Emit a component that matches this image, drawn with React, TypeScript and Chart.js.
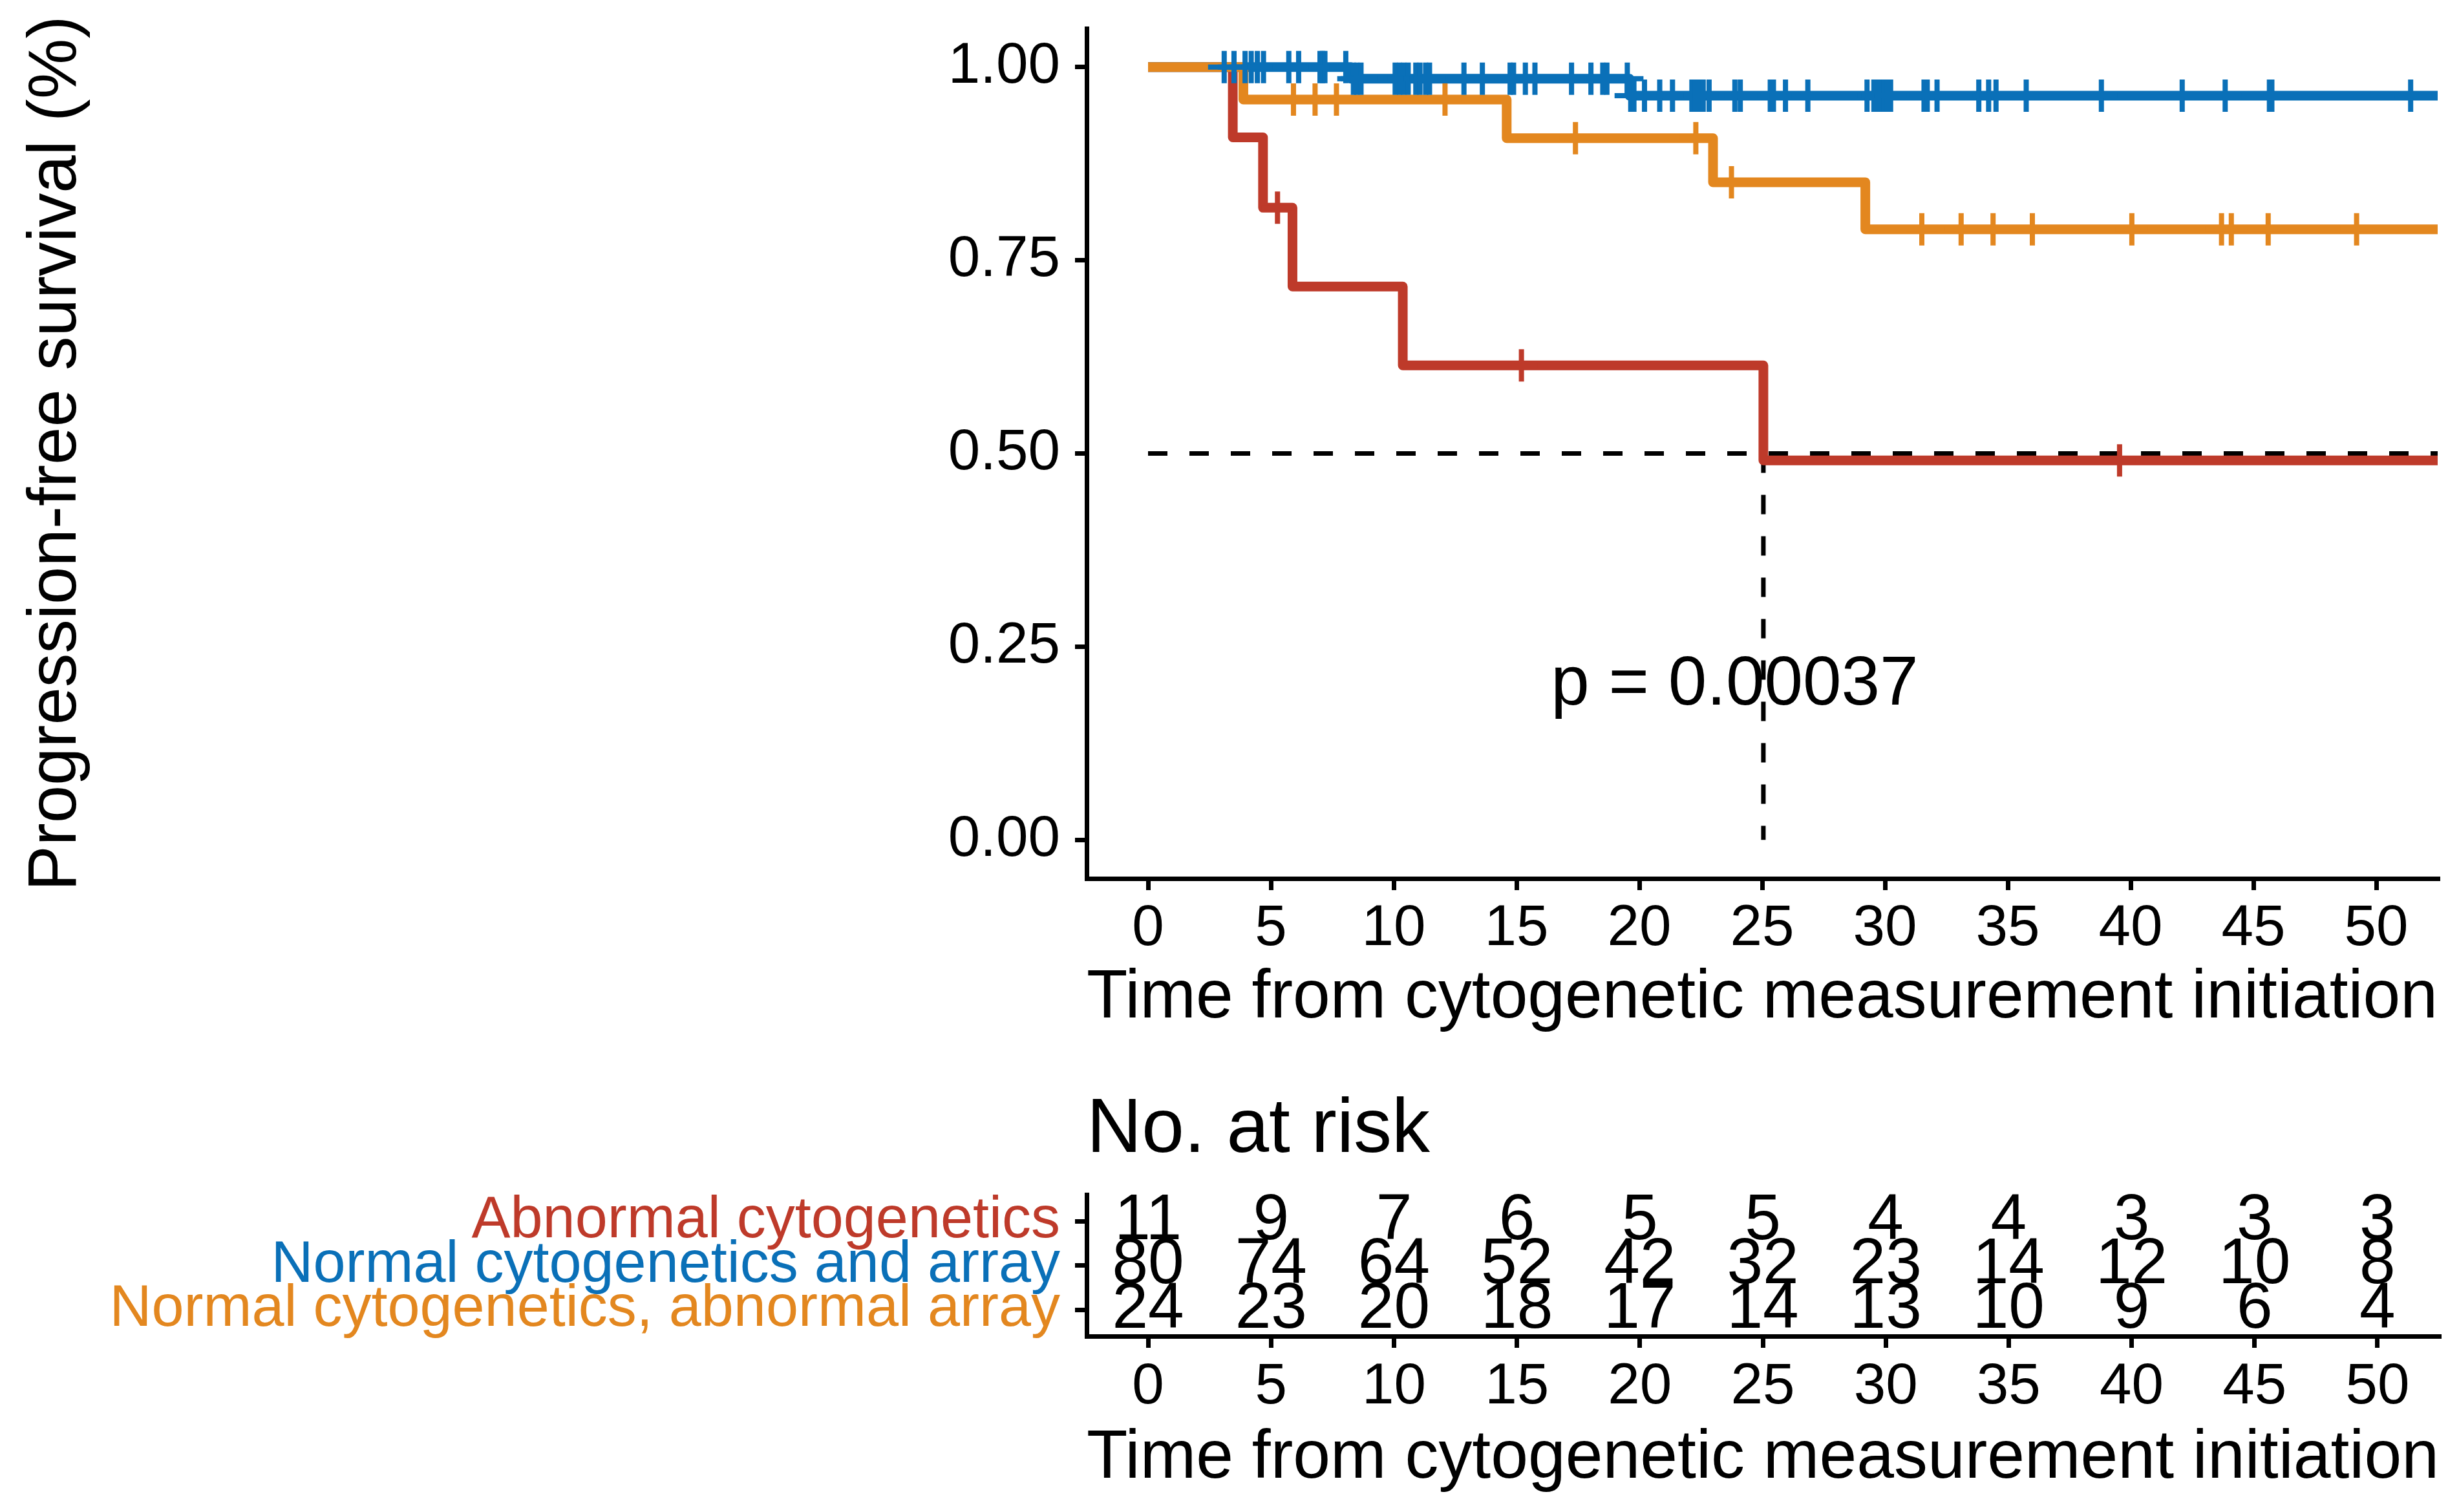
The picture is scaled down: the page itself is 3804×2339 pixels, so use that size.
import React, { useEffect, useRef } from 'react';
import { Chart, registerables } from 'chart.js';

Chart.register(...registerables);

const FONT = '"Liberation Sans", Arial, Helvetica, sans-serif';

const GROUPS = ['Abnormal cytogenetics', 'Normal cytogenetics and array', 'Normal cytogenetics, abnormal array'];
const COLORS = ['#BE3A2A', '#0A70B8', '#E3871F'];

// Kaplan-Meier step curves (time, survival)
const RED_STEP_TIMES = [0, 3.45, 4.68, 5.88, 10.37, 25.05, 55];
const RED_STEP_SURV = [1, 0.909, 0.818, 0.716, 0.614, 0.491, 0.491];
const RED_CENSOR = [5.27, 15.2, 39.55];

const BLUE_STEP_TIMES = [0, 8.25, 19.6, 55];
const BLUE_STEP_SURV = [1, 0.985, 0.963, 0.963];
const BLUE_CENSOR = [
  3.1, 3.5, 3.95, 4.2, 4.45, 4.7,
  5.73, 6.13, 7.0, 7.1, 7.2, 8.05, 8.36, 8.5, 8.67,
  10.06, 10.24, 10.41, 10.59, 10.9, 11.07, 11.3, 11.46, 12.86, 13.61, 14.74, 14.88,
  15.36, 15.75, 17.24, 18.03, 18.51, 18.68, 19.51, 19.65, 19.78,
  20.21, 20.83, 21.35, 22.14, 22.27, 22.45, 22.6, 22.84, 23.89, 24.11,
  25.33, 25.46, 25.95, 26.86, 29.27, 29.55, 29.7, 29.85, 29.95,
  30.1, 30.23, 31.59, 31.65, 31.72, 32.12, 33.82, 34.22, 34.52,
  35.75, 38.81, 42.1, 43.85, 45.65, 45.75, 51.4,
];

const ORANGE_STEP_TIMES = [0, 3.88, 14.6, 23.0, 29.2, 55];
const ORANGE_STEP_SURV = [1, 0.958, 0.908, 0.851, 0.79, 0.79];
const ORANGE_CENSOR = [5.92, 6.8, 7.67, 12.09, 17.4, 22.3, 23.75, 31.5, 33.1, 34.4, 36.0, 40.05, 43.7, 44.1, 45.6, 49.2];

const X_TICKS = [0, 5, 10, 15, 20, 25, 30, 35, 40, 45, 50];
const Y_TICKS = [0, 0.25, 0.5, 0.75, 1];

const RISK_TIMES = [0, 5, 10, 15, 20, 25, 30, 35, 40, 45, 50];
const RISK_RED = [11, 9, 7, 6, 5, 5, 4, 4, 3, 3, 3];
const RISK_BLUE = [80, 74, 64, 52, 42, 32, 23, 14, 12, 10, 8];
const RISK_ORANGE = [24, 23, 20, 18, 17, 14, 13, 10, 9, 6, 4];

const MEDIAN_TIME = 25.05;
const MEDIAN_SURV = 0.5;
const P_TEXT = 'p = 0.00037';
const P_X = 16.4;
const P_Y = 0.2;

const X_TITLE = 'Time from cytogenetic measurement initiation';
const Y_TITLE = 'Progression-free survival (%)';
const RISK_TITLE = 'No. at risk';

const W = 3804;
const TOP_H = 1640;
const RISK_H = 699;
const Y_AXIS_W = 1681;
const RIGHT_PAD = 31;

function stepPoints(times: number[], surv: number[]) {
  return times.map((t, i) => ({ x: t, y: surv[i] }));
}
function survAt(times: number[], surv: number[], t: number) {
  let v = surv[0];
  for (let i = 0; i < times.length; i++) if (times[i] <= t) v = surv[i];
  return v;
}
function censorPoints(c: number[], times: number[], surv: number[]) {
  return c.map((t) => ({ x: t, y: survAt(times, surv, t) }));
}

const axisCommon = {
  border: { display: true, color: '#000', width: 7 },
  grid: { display: true, drawOnChartArea: false, drawTicks: true, tickLength: 18, tickWidth: 7, tickColor: '#000', color: '#000', lineWidth: 7 },
};

const zeroPadX = (s: any, h: number) => {
  s.height = h;
  s.paddingLeft = 0;
  s.paddingRight = 0;
  s.paddingTop = 0;
  s.paddingBottom = 0;
};
const zeroPadY = (s: any) => {
  s.width = Y_AXIS_W;
  s.paddingTop = 0;
  s.paddingBottom = 0;
  s.paddingLeft = 0;
  s.paddingRight = 0;
};

export default function App() {
  const topRef = useRef<HTMLCanvasElement | null>(null);
  const riskRef = useRef<HTMLCanvasElement | null>(null);

  useEffect(() => {
    const lineDs = (label: string, color: string, times: number[], surv: number[], order: number) => ({
      type: 'line' as const,
      label,
      data: stepPoints(times, surv),
      borderColor: color,
      backgroundColor: color,
      borderWidth: 15,
      stepped: 'before' as const,
      pointRadius: 0,
      fill: false,
      borderJoinStyle: 'round' as const,
      borderCapStyle: 'butt' as const,
      order,
    });
    const censorDs = (label: string, color: string, c: number[], times: number[], surv: number[], order: number) => ({
      type: 'line' as const,
      label,
      data: censorPoints(c, times, surv),
      showLine: false,
      pointStyle: 'cross' as const,
      pointRadius: 25,
      pointBorderWidth: 8,
      pointBorderColor: color,
      pointBackgroundColor: color,
      borderColor: color,
      order,
    });

    const pPlugin = {
      id: 'pval',
      afterDatasetsDraw(chart: any) {
        const { ctx, scales } = chart;
        ctx.save();
        ctx.font = `107px ${FONT}`;
        ctx.fillStyle = '#000';
        ctx.textAlign = 'left';
        ctx.textBaseline = 'middle';
        ctx.fillText(P_TEXT, scales.x.getPixelForValue(P_X), scales.y.getPixelForValue(P_Y));
        ctx.restore();
      },
    };

    const top = new Chart(topRef.current as HTMLCanvasElement, {
      type: 'line',
      data: {
        datasets: [
          censorDs(GROUPS[2], COLORS[2], ORANGE_CENSOR, ORANGE_STEP_TIMES, ORANGE_STEP_SURV, 0),
          censorDs(GROUPS[1], COLORS[1], BLUE_CENSOR, BLUE_STEP_TIMES, BLUE_STEP_SURV, 1),
          censorDs(GROUPS[0], COLORS[0], RED_CENSOR, RED_STEP_TIMES, RED_STEP_SURV, 2),
          lineDs(GROUPS[2], COLORS[2], ORANGE_STEP_TIMES, ORANGE_STEP_SURV, 3),
          lineDs(GROUPS[1], COLORS[1], BLUE_STEP_TIMES, BLUE_STEP_SURV, 4),
          lineDs(GROUPS[0], COLORS[0], RED_STEP_TIMES, RED_STEP_SURV, 5),
          {
            type: 'line' as const,
            label: 'median-h',
            data: [{ x: 0, y: MEDIAN_SURV }, { x: 55, y: MEDIAN_SURV }],
            borderColor: '#000',
            borderWidth: 7,
            borderDash: [30, 34],
            pointRadius: 0,
            order: 6,
          },
          {
            type: 'line' as const,
            label: 'median-v',
            data: [{ x: MEDIAN_TIME, y: MEDIAN_SURV }, { x: MEDIAN_TIME, y: 0 }],
            borderColor: '#000',
            borderWidth: 7,
            borderDash: [30, 34],
            pointRadius: 0,
            order: 6,
          },
        ] as any,
      },
      options: {
        responsive: false,
        animation: false,
        devicePixelRatio: 1,
        layout: { padding: { top: 44, right: RIGHT_PAD, bottom: 0, left: 0 } },
        plugins: { legend: { display: false }, tooltip: { enabled: false }, title: { display: false } },
        scales: {
          x: {
            type: 'linear',
            min: -2.5,
            max: 52.5,
            ...axisCommon,
            afterBuildTicks: (s: any) => { s.ticks = X_TICKS.map((v) => ({ value: v })); },
            afterFit: (s: any) => zeroPadX(s, TOP_H - 1359),
            ticks: { autoSkip: false, maxRotation: 0, padding: 7, color: '#000', font: { family: FONT, size: 89 }, callback: (v: any) => String(v) },
            title: { display: true, text: X_TITLE, color: '#000', font: { family: FONT, size: 105 }, padding: { top: 0, bottom: 32 } },
          },
          y: {
            type: 'linear',
            min: -0.05,
            max: 1.05,
            ...axisCommon,
            afterBuildTicks: (s: any) => { s.ticks = Y_TICKS.map((v) => ({ value: v })); },
            afterFit: (s: any) => zeroPadY(s),
            ticks: { autoSkip: false, padding: 23, color: '#000', font: { family: FONT, size: 89 }, callback: (v: any) => Number(v).toFixed(2) },
            title: { display: true, text: Y_TITLE, color: '#000', font: { family: FONT, size: 105 }, padding: { top: 25, bottom: 0 } },
          },
        },
      } as any,
      plugins: [pPlugin],
    });

    const riskRows = [RISK_RED, RISK_BLUE, RISK_ORANGE];
    const riskPlugin = {
      id: 'risknums',
      afterDatasetsDraw(chart: any) {
        const { ctx } = chart;
        ctx.save();
        ctx.font = `100px ${FONT}`;
        ctx.fillStyle = '#000';
        ctx.textAlign = 'center';
        ctx.textBaseline = 'middle';
        chart.data.datasets.forEach((ds: any, di: number) => {
          const meta = chart.getDatasetMeta(di);
          meta.data.forEach((el: any, i: number) => {
            ctx.fillText(String(riskRows[di][i]), el.x, el.y);
          });
        });
        ctx.restore();
      },
    };

    const risk = new Chart(riskRef.current as HTMLCanvasElement, {
      type: 'line',
      data: {
        datasets: riskRows.map((row, r) => ({
          label: GROUPS[r],
          data: row.map((_, i) => ({ x: RISK_TIMES[i], y: r + 1 })),
          showLine: false,
          pointRadius: 0,
        })),
      },
      options: {
        responsive: false,
        animation: false,
        devicePixelRatio: 1,
        layout: { padding: { top: 0, right: RIGHT_PAD, bottom: 0, left: 0 } },
        plugins: {
          legend: { display: false },
          tooltip: { enabled: false },
          title: {
            display: true,
            text: RISK_TITLE,
            align: 'start',
            fullSize: false,
            color: '#000',
            font: { family: FONT, size: 118, weight: 'normal' },
            padding: { top: 39, bottom: 28 },
          },
        },
        scales: {
          x: {
            type: 'linear',
            min: -2.5,
            max: 52.5,
            ...axisCommon,
            afterBuildTicks: (s: any) => { s.ticks = X_TICKS.map((v) => ({ value: v })); },
            afterFit: (s: any) => zeroPadX(s, RISK_H - 427),
            ticks: { autoSkip: false, maxRotation: 0, padding: 8, color: '#000', font: { family: FONT, size: 89 }, callback: (v: any) => String(v) },
            title: { display: true, text: X_TITLE, color: '#000', font: { family: FONT, size: 105 }, padding: { top: 0, bottom: 19 } },
          },
          y: {
            type: 'linear',
            min: 0.4,
            max: 3.6,
            reverse: true,
            ...axisCommon,
            afterBuildTicks: (s: any) => { s.ticks = [1, 2, 3].map((v) => ({ value: v })); },
            afterFit: (s: any) => zeroPadY(s),
            ticks: {
              autoSkip: false,
              padding: 23,
              color: (c: any) => COLORS[c.index] || '#000',
              font: { family: FONT, size: 90 },
              callback: (v: any) => GROUPS[Math.round(Number(v)) - 1] || '',
            },
          },
        },
      } as any,
      plugins: [riskPlugin],
    });

    return () => {
      top.destroy();
      risk.destroy();
    };
  }, []);

  return (
    <div style={{ position: 'fixed', left: 0, top: 0, width: W, height: TOP_H + RISK_H, background: '#fff', overflow: 'hidden' }}>
      <canvas ref={topRef} width={W} height={TOP_H} style={{ position: 'absolute', left: 0, top: 0, width: W, height: TOP_H, display: 'block' }} />
      <canvas ref={riskRef} width={W} height={RISK_H} style={{ position: 'absolute', left: 0, top: TOP_H, width: W, height: RISK_H, display: 'block' }} />
    </div>
  );
}
